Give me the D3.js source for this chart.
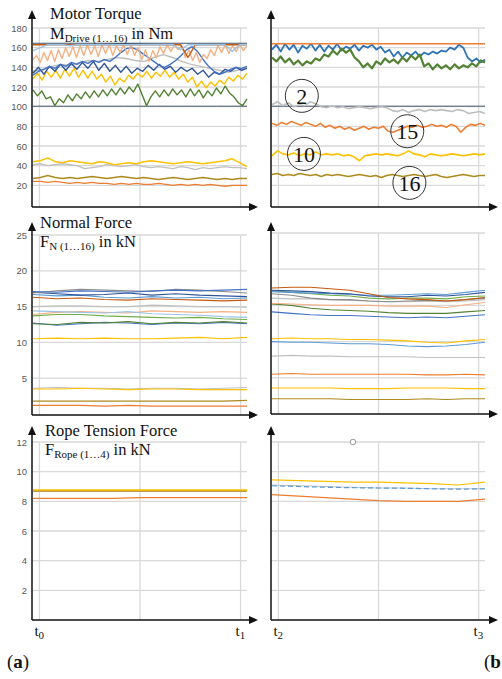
<!DOCTYPE html>
<html>
<head>
<meta charset="utf-8">
<script src="https://cdn.jsdelivr.net/npm/d3@7"></script>
<style>
  body { margin: 0; background: #fff; }
  svg { display: block; }
</style>
</head>
<body>
<svg></svg>
<script>
// tick labels
const torqueTicks = [20, 40, 60, 80, 100, 120, 140, 160, 180];
const normalTicks = [5, 10, 15, 20, 25];
const ropeTicks = [2, 4, 6, 8, 10, 12];
const timeTicks = [0.03, 0.5, 0.97];
const timeLabelsLeft = ['0', '1'];
const timeLabelsRight = ['2', '3'];

// motor torque, t0..t1 (Nm)
const tqA_darkBlueTop = [164.5, 164.5, 164.5, 164.3, 164.5, 164.5, 164.5, 164.5];
const tqA_lightBlueTop = [157, 160, 163, 163, 163, 162, 163, 163, 163, 163, 163, 163, 163, 163, 163, 163, 163, 163, 163, 163, 158, 163, 163, 163, 163, 163, 163, 156, 163, 163];
const tqA_orange = [148, 152, 145, 155, 147, 157, 146, 158, 149, 160, 151, 161, 150, 162, 152, 163, 153, 162, 151, 163, 154, 163, 152, 162, 155, 163, 153, 163, 152, 160, 148, 158, 146, 157, 150, 161, 154, 163, 156, 163, 158, 162, 150, 158, 147, 155, 145, 153, 149, 158, 152, 162, 155, 163, 154, 162, 156, 163, 157, 162];
const tqA_brownTop = [163, 163, 163, 163, 163, 163, 163, 163, 163, 163, 163, 163, 163, 163, 163, 163, 163, 163, 163, 163, 163, 150, 163, 163, 163, 163, 163, 163, 163, 163];
const tqA_blue = [132, 136, 138, 141, 139, 143, 141, 145, 143, 146, 144, 147, 145, 148, 146, 150, 155, 159, 160, 158, 154, 150, 146, 142, 140, 143, 147, 152, 158, 161, 156, 148, 141, 136, 133, 135, 138, 140, 139, 141];
const tqA_darkBlue = [134, 140, 133, 141, 136, 143, 137, 144, 138, 145, 139, 146, 137, 144, 136, 142, 135, 141, 134, 139, 136, 142, 137, 143, 138, 141, 135, 140, 136, 139, 133, 137, 130, 135, 133, 138, 136, 140, 137, 139];
const tqA_gray = [136, 138, 141, 143, 142, 145, 147, 146, 148, 150, 149, 147, 146, 150, 153, 150, 146, 143, 141, 139, 137, 135, 137, 140];
const tqA_yellow = [128, 134, 127, 136, 130, 137, 129, 138, 131, 139, 130, 137, 129, 136, 128, 133, 125, 131, 122, 129, 125, 132, 128, 134, 130, 136, 129, 135, 131, 137, 130, 135, 128, 133, 125, 130, 120, 126, 119, 125, 121, 127, 123, 130, 126, 132, 128, 134];
const tqA_green = [117, 111, 116, 108, 110, 101, 108, 104, 112, 106, 113, 108, 115, 109, 116, 110, 117, 111, 118, 112, 119, 113, 120, 115, 123, 112, 101, 110, 116, 110, 117, 111, 118, 112, 117, 110, 118, 111, 117, 109, 116, 111, 119, 113, 121, 114, 110, 104, 101, 108];
const tqA_darkBlueLow = [100.5, 100.5, 100.5, 100.5, 100.5, 100.5, 100.5, 100.5];
const tqA_yellowLow = [44, 45, 48, 44, 43, 45, 44, 43, 42, 44, 43, 41, 42, 43, 42, 44, 45, 44, 43, 42, 43, 44, 43, 42, 43, 44, 45, 47, 43, 39];
const tqA_grayLow = [41, 42, 40, 41, 42, 41, 40, 37, 38, 39, 41, 40, 39, 40, 41, 39, 38, 39, 38, 37, 39, 38, 36, 38, 37, 38, 39, 38, 38, 37];
const tqA_brownLow = [27, 28, 30, 28, 27, 28, 27, 28, 29, 28, 27, 28, 29, 28, 27, 28, 27, 26, 27, 28, 27, 26, 27, 28, 27, 26, 27, 26, 27, 27];
const tqA_orangeLow = [24, 24, 23, 24, 23, 22, 23, 22, 23, 22, 22, 21, 22, 21, 22, 21, 21, 22, 21, 20, 21, 20, 21, 20, 21, 20, 19, 20, 20, 20];

// motor torque, t2..t3 (Nm)
const tqB_orangeTop = [164, 164, 164, 164, 164, 164];
const tqB_blue = [158, 163, 156, 164, 158, 163, 155, 162, 159, 164, 157, 163, 156, 162, 158, 164, 157, 161, 159, 163, 157, 162, 160, 163, 158, 161, 155, 158, 151, 156, 150, 155, 152, 156, 151, 155, 153, 156, 154, 157, 156, 160, 158, 163, 160, 150, 146, 149, 145, 148];
const tqB_green = [150, 146, 151, 145, 149, 143, 147, 142, 146, 144, 149, 147, 153, 151, 157, 153, 159, 155, 158, 150, 146, 140, 144, 139, 146, 143, 149, 145, 148, 144, 150, 146, 152, 148, 153, 141, 144, 138, 143, 139, 142, 138, 143, 139, 142, 140, 144, 141, 147, 145];
const tqB_darkBlue = [100.5, 100.5, 100.5, 100.5, 100.5, 100.5];
const tqB_gray = [102, 105, 101, 104, 100, 102, 101, 105, 103, 100, 99, 101, 99, 100, 98, 99, 100, 99, 98, 99, 100, 99, 96, 95, 97, 94, 96, 97, 95, 97, 96, 97, 96, 95, 97, 96, 93, 94, 95, 93];
const tqB_orange = [83, 81, 84, 82, 85, 83, 81, 84, 82, 80, 83, 79, 81, 78, 80, 77, 79, 76, 78, 80, 77, 79, 78, 80, 75, 74, 76, 78, 80, 79, 81, 79, 80, 82, 80, 81, 79, 82, 80, 74, 79, 82, 81, 83, 81];
const tqB_yellow = [50, 55, 52, 51, 53, 50, 52, 51, 54, 51, 52, 51, 52, 50, 51, 49, 45, 50, 51, 52, 51, 52, 51, 50, 52, 55, 52, 51, 49, 52, 51, 50, 51, 52, 51, 50, 51, 52, 51, 52];
const tqB_brown = [31, 32, 30, 31, 30, 32, 31, 30, 31, 29, 31, 30, 31, 30, 29, 30, 31, 30, 29, 30, 28, 30, 31, 30, 29, 30, 31, 30, 29, 30, 31, 29, 28, 29, 30, 31, 30, 29, 30, 30];
const tqB_notes = [
  { label: '2', t: 0.14, v: 111 },
  { label: '15', t: 0.635, v: 75 },
  { label: '10', t: 0.15, v: 52 },
  { label: '16', t: 0.645, v: 22.5 }
];

// normal force, t0..t1 (kN)
const fnA_blue = [17.1, 17.0, 17.2, 17.1, 17.0, 17.2, 17.3, 17.2, 17.3, 17.4];
const fnA_darkGray = [16.9, 17.2, 17.4, 17.3, 17.2, 17.1, 17.4, 17.3, 17.1, 16.9];
const fnA_darkBlue = [17.0, 16.8, 16.6, 16.7, 16.9, 16.6, 16.8, 16.6, 16.5, 16.4];
const fnA_lightBlue = [16.7, 16.5, 16.6, 16.3, 16.2, 16.4, 16.2, 16.3, 16.1, 16.2];
const fnA_brown = [16.3, 16.1, 16.2, 16.0, 15.9, 16.1, 16.0, 15.9, 15.8, 15.9];
const fnA_gray = [15.0, 15.1, 15.1, 15.0, 15.0, 15.2, 15.1, 15.0, 15.0, 14.9];
const fnA_lightBlue2 = [14.4, 14.3, 14.2, 14.1, 14.3, 14.0, 13.9, 13.8, 13.6, 13.5];
const fnA_lightOrange = [13.9, 14.2, 14.3, 14.2, 14.1, 14.4, 14.3, 14.2, 14.3, 14.2];
const fnA_lightGreen = [13.7, 13.9, 13.9, 13.7, 13.6, 13.5, 13.4, 13.5, 13.3, 13.2];
const fnA_darkGreen = [12.6, 12.5, 12.8, 12.7, 12.9, 12.6, 12.8, 12.7, 12.9, 12.7];
const fnA_darkBlue2 = [12.7, 12.4, 12.6, 12.8, 12.7, 12.5, 12.7, 12.6, 12.8, 12.6];
const fnA_yellow = [10.5, 10.6, 10.5, 10.6, 10.5, 10.5, 10.6, 10.7, 10.5, 10.7];
const fnA_grayLow = [3.6, 3.7, 3.6, 3.6, 3.5, 3.6, 3.6, 3.5, 3.6, 3.7];
const fnA_yellowLow = [3.5, 3.5, 3.6, 3.5, 3.4, 3.5, 3.5, 3.4, 3.4, 3.4];
const fnA_olive = [1.8, 1.8, 1.8, 1.8, 1.8, 1.8, 1.8, 1.8, 1.8, 1.9];
const fnA_orange = [1.2, 1.2, 1.2, 1.1, 1.2, 1.1, 1.1, 1.1, 1.1, 1.1];

// normal force, t2..t3 (kN)
const fnB_brown = [17.4, 17.5, 17.5, 17.3, 17.1, 16.6, 16.1, 15.9, 15.8, 15.6, 15.8, 16.1];
const fnB_darkBlue = [17.1, 17.0, 16.9, 16.7, 16.6, 16.3, 16.2, 16.2, 16.4, 16.3, 16.5, 16.8];
const fnB_blue = [16.9, 16.8, 16.7, 16.6, 16.5, 16.4, 16.4, 16.5, 16.6, 16.5, 16.8, 17.1];
const fnB_green = [17.0, 16.8, 16.6, 16.4, 16.3, 16.0, 15.9, 16.0, 16.0, 15.9, 16.2, 16.3];
const fnB_darkGray = [16.6, 16.4, 16.0, 15.8, 15.8, 15.6, 15.5, 15.6, 15.7, 15.6, 15.8, 16.0];
const fnB_gray = [16.0, 15.9, 15.9, 15.8, 15.7, 15.6, 15.5, 15.5, 15.6, 15.5, 15.6, 15.8];
const fnB_lightOrange = [15.3, 15.2, 15.1, 15.0, 15.0, 15.0, 14.9, 14.9, 14.9, 14.7, 15.1, 15.4];
const fnB_darkGreen = [15.2, 15.0, 14.6, 14.4, 14.3, 14.2, 14.0, 13.9, 13.9, 13.9, 14.1, 14.3];
const fnB_darkBlue2 = [14.1, 13.9, 13.7, 13.6, 13.6, 13.5, 13.4, 13.3, 13.4, 13.3, 13.5, 13.7];
const fnB_yellow = [10.4, 10.5, 10.4, 10.4, 10.3, 10.3, 10.2, 10.1, 9.9, 9.8, 10.1, 10.3];
const fnB_lightBlue = [10.0, 9.9, 9.9, 9.8, 9.7, 9.7, 9.6, 9.4, 9.3, 9.4, 9.6, 9.9];
const fnB_grayLow = [8.0, 8.1, 8.0, 8.0, 7.9, 7.9, 7.9, 7.9, 7.8, 7.8, 7.8, 7.8];
const fnB_orange = [5.5, 5.6, 5.5, 5.5, 5.5, 5.5, 5.5, 5.5, 5.4, 5.4, 5.5, 5.4];
const fnB_yellowLow = [3.6, 3.6, 3.6, 3.6, 3.5, 3.5, 3.5, 3.6, 3.6, 3.6, 3.5, 3.5];
const fnB_olive = [2.1, 2.1, 2.1, 2.1, 2.0, 2.0, 2.0, 2.0, 2.1, 2.0, 2.1, 2.1];

// rope tension force (kN)
const frA_gray = [8.72, 8.72, 8.72, 8.72, 8.72, 8.72, 8.72, 8.72, 8.72];
const frA_olive = [8.7, 8.7, 8.7, 8.7, 8.7, 8.7, 8.7, 8.7, 8.7];
const frA_yellow = [8.76, 8.76, 8.76, 8.76, 8.76, 8.76, 8.76, 8.76, 8.76];
const frA_orange = [8.2, 8.2, 8.2, 8.2, 8.25, 8.25, 8.25, 8.25, 8.25];
const frB_yellow = [9.45, 9.4, 9.35, 9.3, 9.3, 9.25, 9.2, 9.1, 9.3];
const frB_gray = [9.1, 9.05, 9.0, 8.95, 8.9, 8.9, 8.85, 8.85, 8.85];
const frB_blue = [9.05, 9.0, 8.95, 8.92, 8.9, 8.88, 8.85, 8.82, 8.85];
const frB_orange = [8.45, 8.35, 8.25, 8.15, 8.05, 8.0, 8.0, 8.0, 8.15];
const frB_marker = [{ t: 0.38, v: 12 }];

const C = {
  blue: '#4472C4', darkBlue: '#2F5597', slate: '#44546A', lightBlue: '#5B9BD5', paleBlue: '#9DC3E6',
  orange: '#ED7D31', lightOrange: '#F4B183', brown: '#C55A11',
  gray: '#BFBFBF', darkGray: '#8C8C8C', yellow: '#FFC000',
  green: '#548235', lightGreen: '#70AD47', olive: '#AD8A1F'
};

const svg = d3.select('svg').attr('width', 502).attr('height', 679);

const leftX = [33, 247];
const rightX = [272, 485];

const panels = [
  {
    xr: leftX, yAxis: 32, xTip: 258, y0: 207, yTip: 10,
    y: d3.scaleLinear().domain([0, 180]).range([205, 28]),
    ticks: torqueTicks, labels: true, width: 1.4,
    series: [
      [tqA_orangeLow, C.orange], [tqA_brownLow, C.olive], [tqA_grayLow, C.gray], [tqA_yellowLow, C.yellow],
      [tqA_darkBlueLow, C.slate, null, 1], [tqA_green, C.green], [tqA_yellow, C.yellow], [tqA_gray, C.gray],
      [tqA_darkBlue, C.darkBlue], [tqA_blue, C.blue], [tqA_orange, C.lightOrange], [tqA_brownTop, C.brown],
      [tqA_lightBlueTop, C.paleBlue], [tqA_darkBlueTop, C.slate, null, 1.2]
    ]
  },
  {
    xr: rightX, yAxis: 271, xTip: 498, y0: 207, yTip: 10,
    y: d3.scaleLinear().domain([0, 180]).range([205, 28]),
    ticks: torqueTicks, labels: false, width: 1.6,
    series: [
      [tqB_brown, C.olive], [tqB_yellow, C.yellow], [tqB_orange, C.orange], [tqB_darkBlue, C.slate, null, 1],
      [tqB_gray, C.gray], [tqB_blue, '#2E75B6', null, 1.8], [tqB_green, C.green, null, 2.2], [tqB_orangeTop, C.orange]
    ],
    notes: tqB_notes
  },
  {
    xr: leftX, yAxis: 32, xTip: 258, y0: 415, yTip: 222,
    y: d3.scaleLinear().domain([0, 25]).range([414, 235]),
    ticks: normalTicks, labels: true, width: 1.1,
    series: [
      [fnA_orange, C.orange], [fnA_olive, C.olive], [fnA_grayLow, C.gray], [fnA_yellowLow, C.yellow],
      [fnA_yellow, C.yellow], [fnA_darkBlue2, C.blue], [fnA_darkGreen, C.green], [fnA_lightGreen, C.lightGreen],
      [fnA_lightOrange, C.lightOrange], [fnA_lightBlue2, C.paleBlue], [fnA_gray, C.gray], [fnA_brown, C.brown],
      [fnA_lightBlue, C.lightBlue], [fnA_darkBlue, C.darkBlue], [fnA_darkGray, C.darkGray], [fnA_blue, C.blue]
    ]
  },
  {
    xr: rightX, yAxis: 271, xTip: 498, y0: 414, yTip: 222,
    y: d3.scaleLinear().domain([0, 25]).range([414, 233]),
    ticks: normalTicks, labels: false, width: 1.1,
    series: [
      [fnB_olive, C.olive], [fnB_yellowLow, C.yellow], [fnB_orange, C.orange], [fnB_grayLow, C.gray],
      [fnB_lightBlue, C.lightBlue], [fnB_yellow, C.yellow], [fnB_darkBlue2, C.blue], [fnB_darkGreen, C.green],
      [fnB_lightOrange, C.lightOrange], [fnB_gray, C.gray], [fnB_darkGray, C.darkGray], [fnB_green, C.lightGreen],
      [fnB_blue, C.lightBlue], [fnB_darkBlue, C.darkBlue], [fnB_brown, C.brown]
    ]
  },
  {
    xr: leftX, yAxis: 32, xTip: 258, y0: 620, yTip: 426,
    y: d3.scaleLinear().domain([0, 12]).range([620, 442]),
    ticks: ropeTicks, labels: true, width: 1.6,
    series: [[frA_orange, C.orange, null, 1.3], [frA_gray, C.gray], [frA_olive, C.olive], [frA_yellow, C.yellow]]
  },
  {
    xr: rightX, yAxis: 271, xTip: 498, y0: 620, yTip: 426,
    y: d3.scaleLinear().domain([0, 12]).range([620, 442]),
    ticks: ropeTicks, labels: false, width: 1.2,
    series: [[frB_orange, C.orange], [frB_gray, C.gray], [frB_blue, C.lightBlue, '5,3'], [frB_yellow, C.yellow]],
    marker: frB_marker
  }
];

const drawPanel = (p) => {
  const g = svg.append('g');
  const x = d3.scaleLinear().domain([0, 1]).range(p.xr);
  const top = p.y(d3.max(p.ticks));

  // grid
  g.selectAll('.hgrid').data(p.ticks).join('line')
    .attr('x1', p.yAxis).attr('x2', p.xr[1])
    .attr('y1', d => p.y(d)).attr('y2', d => p.y(d))
    .attr('stroke', '#d9d9d9').attr('stroke-width', 1.3);
  g.selectAll('.vgrid').data(timeTicks).join('line')
    .attr('x1', d => x(d)).attr('x2', d => x(d))
    .attr('y1', top).attr('y2', p.y0)
    .attr('stroke', '#d9d9d9').attr('stroke-width', 1.3);

  if (p.labels) {
    g.selectAll('.tick').data(p.ticks).join('text')
      .attr('x', 27).attr('y', d => p.y(d) + 3.5)
      .attr('text-anchor', 'end')
      .attr('font-family', 'Liberation Sans, Arial, sans-serif')
      .attr('font-size', 9.5).attr('fill', '#595959')
      .text(d => d);
  }

  // series
  p.series.forEach(([values, color, dash, w]) => {
    const sx = d3.scaleLinear().domain([0, values.length - 1]).range(p.xr);
    const line = d3.line().x((d, i) => sx(i)).y(d => p.y(d));
    g.append('path').datum(values)
      .attr('d', line)
      .attr('fill', 'none')
      .attr('stroke', color)
      .attr('stroke-width', w || p.width)
      .attr('stroke-linejoin', 'round')
      .attr('stroke-dasharray', dash || null);
  });

  if (p.marker) {
    g.selectAll('.marker').data(p.marker).join('circle')
      .attr('cx', d => x(d.t)).attr('cy', d => p.y(d.v)).attr('r', 2.8)
      .attr('fill', '#fff').attr('stroke', '#999').attr('stroke-width', 1);
  }

  if (p.notes) {
    const n = g.selectAll('.note').data(p.notes).join('g')
      .attr('transform', d => `translate(${x(d.t)}, ${p.y(d.v)})`);
    n.append('circle').attr('r', 16.5)
      .attr('fill', 'none').attr('stroke', '#333').attr('stroke-width', 1);
    n.append('text').attr('y', 8)
      .attr('text-anchor', 'middle')
      .attr('font-family', 'Liberation Serif, serif')
      .attr('font-size', 22).attr('fill', '#111')
      .text(d => d.label);
  }

  // axes with arrow heads
  g.append('line').attr('x1', p.yAxis).attr('x2', p.yAxis)
    .attr('y1', p.y0).attr('y2', p.yTip + 6)
    .attr('stroke', '#111').attr('stroke-width', 1.5);
  g.append('line').attr('x1', p.yAxis).attr('x2', p.xTip - 6)
    .attr('y1', p.y0).attr('y2', p.y0)
    .attr('stroke', '#111').attr('stroke-width', 1.5);
  g.append('path')
    .attr('d', `M${p.yAxis},${p.yTip} L${p.yAxis - 4},${p.yTip + 9} L${p.yAxis + 4},${p.yTip + 9} Z`)
    .attr('fill', '#111');
  g.append('path')
    .attr('d', `M${p.xTip},${p.y0} L${p.xTip - 9},${p.y0 - 4} L${p.xTip - 9},${p.y0 + 4} Z`)
    .attr('fill', '#111');
  return x;
};

const xs = panels.map(drawPanel);

// titles
const serif = 'Liberation Serif, Times New Roman, serif';
const title = (tx, ty, main) => svg.append('text')
  .attr('x', tx).attr('y', ty)
  .attr('font-family', serif).attr('font-size', 16.5).attr('fill', '#111')
  .text(main);
const symbol = (tx, ty, letter, sub, unit) => {
  const t = svg.append('text').attr('x', tx).attr('y', ty)
    .attr('font-family', serif).attr('font-size', 16.5).attr('fill', '#111');
  t.append('tspan').text(letter);
  t.append('tspan').attr('dy', 3).attr('font-size', 11).text(sub);
  t.append('tspan').attr('dy', -3).text(' in ' + unit);
};

title(50, 19, 'Motor Torque');
symbol(50, 39, 'M', 'Drive (1…16)', 'Nm');
title(40, 228, 'Normal Force');
symbol(40, 247, 'F', 'N (1…16)', 'kN');
title(45, 436, 'Rope Tension Force');
symbol(45, 455, 'F', 'Rope (1…4)', 'kN');

// time labels
const timeLabel = (x, names) => {
  [timeTicks[0], timeTicks[2]].forEach((t, i) => {
    const tl = svg.append('text')
      .attr('x', x(t) - 5).attr('y', 636)
      .attr('font-family', serif).attr('font-size', 15).attr('fill', '#111');
    tl.append('tspan').text('t');
    tl.append('tspan').attr('dy', 3).attr('font-size', 11).text(names[i]);
  });
};
timeLabel(xs[4], timeLabelsLeft);
timeLabel(xs[5], timeLabelsRight);

// panel letters
const letter = (tx, txt) => {
  const t = svg.append('text').attr('x', tx).attr('y', 668)
    .attr('font-family', serif).attr('font-size', 19).attr('fill', '#111');
  t.append('tspan').text('(');
  t.append('tspan').attr('font-weight', 'bold').text(txt);
  if (txt === 'a') t.append('tspan').text(')');
};
letter(7, 'a');
letter(484, 'b');
</script>
</body>
</html>
